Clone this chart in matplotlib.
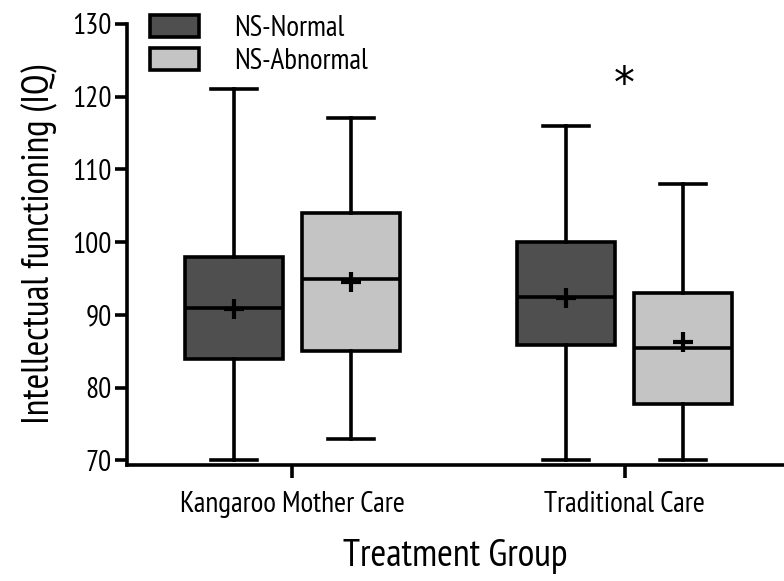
import matplotlib
matplotlib.use("Agg")
import matplotlib.pyplot as plt
from matplotlib.patches import Patch

plt.rcParams["font.family"] = ["PT Sans Narrow", "DejaVu Sans"]

groups = ["Kangaroo Mother Care", "Traditional Care"]
series = ["NS-Normal", "NS-Abnormal"]
colors = ["#4f4f4f", "#c4c4c4"]

# box summaries per group, one entry per series (Normal, Abnormal)
q1 = [[84.0, 85.0], [85.8, 77.8]]
median = [[91.0, 95.0], [92.5, 85.5]]
q3 = [[98.0, 104.0], [100.0, 93.0]]
whisker_lo = [[70.0, 73.0], [70.0, 70.0]]
whisker_hi = [[121.0, 117.0], [116.0, 108.0]]
mean = [[90.8, 94.5], [92.3, 86.3]]

LW = 2.6
fig = plt.figure(figsize=(7.84, 5.81), dpi=100)
ax = fig.add_axes([0.162, 0.2, 0.838, 0.759])

offset = 0.176
width = 0.295
for g in range(len(groups)):
    for s in range(len(series)):
        stats = [dict(med=median[g][s], q1=q1[g][s], q3=q3[g][s],
                      whislo=whisker_lo[g][s], whishi=whisker_hi[g][s],
                      mean=mean[g][s])]
        pos = g + (offset if s else -offset)
        ax.bxp(stats, positions=[pos], widths=width, patch_artist=True,
               showfliers=False, showmeans=True,
               boxprops=dict(facecolor=colors[s], edgecolor="black", linewidth=LW),
               medianprops=dict(color="black", linewidth=LW),
               whiskerprops=dict(color="black", linewidth=LW),
               capprops=dict(color="black", linewidth=LW),
               capwidths=0.14,
               meanprops=dict(marker="+", markeredgecolor="black",
                              markersize=14, markeredgewidth=3))

# significance mark over the Traditional Care group
ax.text(1.0, 121.6, "*", ha="center", va="center", fontsize=30,
        family="DejaVu Sans")

ax.set_xlim(-0.498, 1.48)
ax.set_ylim(69.4, 130)
ax.set_xticks(range(len(groups)))
ax.set_xticklabels(groups, fontsize=21)
ax.set_yticks(range(70, 131, 10))
ax.tick_params(axis="y", labelsize=21, length=9, width=LW, pad=2)
ax.tick_params(axis="x", length=9, width=LW, pad=10)
ax.spines["top"].set_visible(False)
ax.spines["right"].set_visible(False)
ax.spines["left"].set_linewidth(LW)
ax.spines["bottom"].set_linewidth(LW)
ax.spines["left"].set_bounds(69.4, 130)

ax.set_ylabel("Intellectual functioning (IQ)", fontsize=27, labelpad=10)
ax.set_xlabel("Treatment Group", fontsize=27.5, labelpad=15)

handles = [Patch(facecolor=c, edgecolor="black", linewidth=LW) for c in colors]
ax.legend(handles, series, loc="upper left", bbox_to_anchor=(0.008, 1.06),
          frameon=False, fontsize=21, handlelength=1.7, handleheight=0.8,
          labelspacing=0.2, handletextpad=1.2, borderaxespad=0.2)

fig.savefig("out.png", dpi=100)
